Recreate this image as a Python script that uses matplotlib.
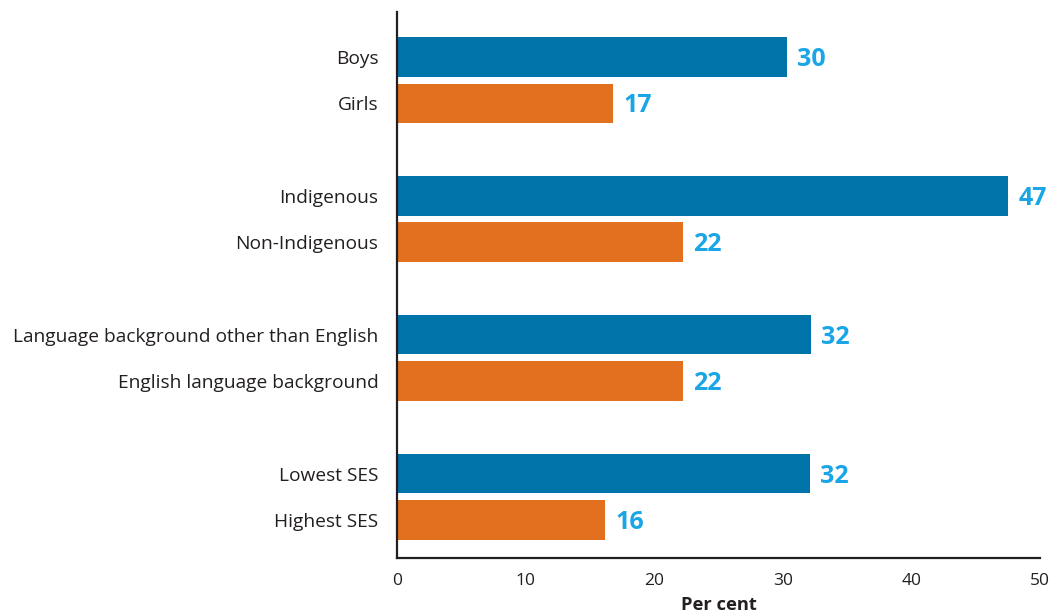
import matplotlib
matplotlib.use("Agg")
import matplotlib.pyplot as plt

categories = ["Boys", "Girls", "Indigenous", "Non-Indigenous",
              "Language background other than English", "English language background",
              "Lowest SES", "Highest SES"]
values = [30.3, 16.8, 47.5, 22.2, 32.2, 22.2, 32.1, 16.2]
value_labels = ["30", "17", "47", "22", "32", "22", "32", "16"]
positions = [0, 1, 3, 4, 6, 7, 9, 10]
bar_colors = ["#0073a8", "#e3701e"] * 4

plt.rcParams["font.family"] = ["Open Sans", "DejaVu Sans"]

fig = plt.figure(figsize=(10.52, 6.14), dpi=100)
ax = fig.add_axes([0.3774, 0.0912, 0.6112, 0.8893])

ax.barh(positions, values, height=0.85, color=bar_colors)
for p, v, lab in zip(positions, values, value_labels):
    ax.text(v + 0.8, p + 0.05, lab, va="center", ha="left", fontsize=18,
            fontweight="bold", color="#1aa6e6")

ax.set_yticks(positions)
ax.set_yticklabels(categories, fontsize=13.8, color="#231f20")
ax.set_ylim(10.82, -0.97)
ax.set_xlim(0, 50)
ax.set_xticks([0, 10, 20, 30, 40, 50])
ax.tick_params(axis="x", length=0, pad=11, labelsize=12.5, labelcolor="#231f20")
ax.tick_params(axis="y", length=0, pad=13.5)
ax.set_xlabel("Per cent", fontsize=13.2, fontweight="bold", color="#231f20", labelpad=5)

for side in ["top", "right"]:
    ax.spines[side].set_visible(False)
for side in ["left", "bottom"]:
    ax.spines[side].set_linewidth(1.6)
    ax.spines[side].set_color("#231f20")

fig.savefig("out.png", dpi=100)
